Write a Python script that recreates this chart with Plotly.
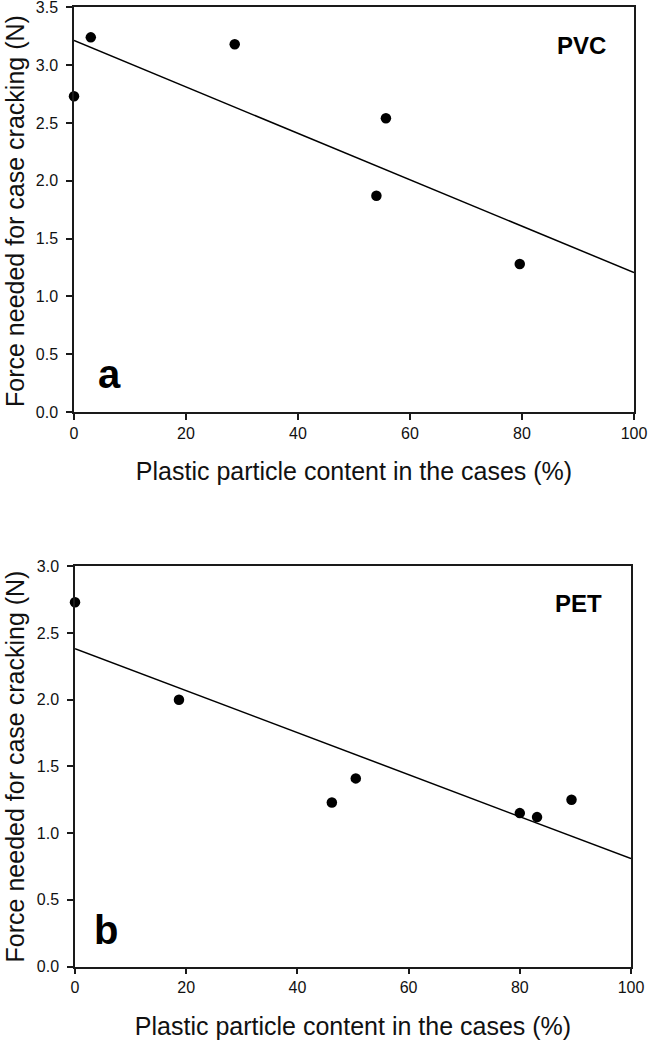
import numpy as np
import plotly.graph_objects as go

# PVC panel (a)
pvc_x = [0.0, 3.0, 28.7, 54.0, 55.7, 79.6]
pvc_y = [2.73, 3.24, 3.18, 1.87, 2.54, 1.28]

# PET panel (b)
pet_x = [0.0, 18.7, 46.2, 50.5, 80.0, 83.1, 89.3]
pet_y = [2.73, 2.00, 1.23, 1.41, 1.15, 1.12, 1.25]

x_ticks = [0, 20, 40, 60, 80, 100]
x_title = "Plastic particle content in the cases (%)"
y_title = "Force needed for case cracking (N)"

FONT = "Liberation Sans, Arial, sans-serif"
AX = "#1a1a1a"

fig = go.Figure()

def add_panel(xs, ys, xa, ya):
    slope, icpt = np.polyfit(xs, ys, 1)
    lx = np.array([0.0, 100.0])
    fig.add_trace(go.Scatter(x=lx, y=icpt + slope * lx, mode="lines",
                             line=dict(color="black", width=1.5),
                             xaxis=xa, yaxis=ya, showlegend=False, hoverinfo="skip"))
    fig.add_trace(go.Scatter(x=xs, y=ys, mode="markers",
                             marker=dict(color="black", size=10.5),
                             cliponaxis=False,
                             xaxis=xa, yaxis=ya, showlegend=False))

add_panel(pvc_x, pvc_y, "x", "y")
add_panel(pet_x, pet_y, "x2", "y2")

W, H = 649, 1041

def xax(d0, d1, anchor):
    return dict(domain=[d0 / W, d1 / W], range=[0, 100], tickvals=x_ticks,
                ticks="outside", ticklen=6, tickwidth=1.5, tickcolor=AX,
                showline=True, linecolor=AX, linewidth=1.5, mirror=True,
                showgrid=False, zeroline=False, anchor=anchor,
                ticklabeloverflow="allow",
                tickfont=dict(family=FONT, size=16, color="#111"),
                title=dict(text=x_title, font=dict(family=FONT, size=25, color="#111"), standoff=22),
                automargin=False)

def yax(top_px, bot_px, rmax, anchor):
    return dict(domain=[1 - bot_px / H, 1 - top_px / H], range=[0, rmax], dtick=0.5,
                tickformat=".1f",
                ticks="outside", ticklen=6, tickwidth=1.5, tickcolor=AX,
                showline=True, linecolor=AX, linewidth=1.5, mirror=True,
                showgrid=False, zeroline=False, anchor=anchor,
                ticklabeloverflow="allow", ticklabelstandoff=5,
                tickfont=dict(family=FONT, size=16, color="#111"),
                automargin=False)

def ytitle(top_px, bot_px):
    return dict(text=y_title, textangle=-90, xref="paper", yref="paper",
                x=15 / W, y=1 - (top_px + bot_px) / 2 / H, xanchor="center", yanchor="middle",
                showarrow=False, font=dict(family=FONT, size=25, color="#111"))

fig.update_layout(
    width=W, height=H,
    margin=dict(l=0, r=0, t=0, b=0, autoexpand=False),
    paper_bgcolor="white", plot_bgcolor="white",
    xaxis=xax(74, 634, "y"),
    yaxis=yax(7.3, 412, 3.5, "x"),
    xaxis2=xax(75, 631, "y2"),
    yaxis2=yax(566.3, 966.5, 3.0, "x2"),
    annotations=[
        ytitle(9, 413),
        ytitle(566.3, 966.5),
        dict(text="<b>PVC</b>", x=90.7, y=3.17, xref="x", yref="y", showarrow=False,
             font=dict(family=FONT, size=24, color="black")),
        dict(text="<b>PET</b>", x=90.5, y=2.72, xref="x2", yref="y2", showarrow=False,
             font=dict(family=FONT, size=24, color="black")),
        dict(text="<b>a</b>", x=6.4, y=0.325, xref="x", yref="y", showarrow=False,
             font=dict(family=FONT, size=40, color="black")),
        dict(text="<b>b</b>", x=5.6, y=0.27, xref="x2", yref="y2", showarrow=False,
             font=dict(family=FONT, size=40, color="black")),
    ],
)

fig.write_html("out.html", config={"displayModeBar": False},
               post_script="document.body.style.margin='0';")
